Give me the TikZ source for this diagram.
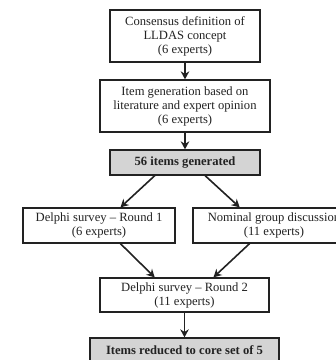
\documentclass[tikz,border=0pt]{standalone}
\usepackage{fontspec}
\setmainfont{Liberation Serif}
\usetikzlibrary{arrows.meta,calc}
\definecolor{boxgray}{HTML}{D4D4D4}
\definecolor{ink}{HTML}{222222}
\tikzset{
  box/.style={draw=ink, line width=1.3pt, fill=white, inner sep=0pt, align=center,
    font=\fontsize{12.6}{14}\selectfont, text=ink},
  graybox/.style={box, fill=boxgray, font=\fontsize{12.6}{14}\selectfont\bfseries},
  arr/.style={draw=ink, line width=1.6pt, -{Stealth[length=8pt,width=8.5pt]}}
}
\begin{document}
\begin{tikzpicture}[x=1pt,y=-1pt]
\useasboundingbox (0,0) rectangle (336,360);
\clip (0,0) rectangle (336,360);
\node[box, minimum width=150pt, minimum height=52pt] (b1) at (185,36) {Consensus definition of\\LLDAS concept\\(6 experts)};
\node[box, minimum width=170pt, minimum height=52pt] (b2) at (185,106) {Item generation based on\\literature and expert opinion\\(6 experts)};
\node[graybox, minimum width=150pt, minimum height=25pt] (b3) at (185,162.5) {56 items generated};
\node[box, minimum width=152pt, minimum height=35pt] (d1) at (99,225.5) {Delphi survey -- Round 1\\(6 experts)};
\node[box, minimum width=162pt, minimum height=35pt] (ng) at (274,225.5) {Nominal group discussion\\(11 experts)};
\node[box, minimum width=169pt, minimum height=34pt] (d2) at (184.5,295) {Delphi survey -- Round 2\\(11 experts)};
\node[graybox, minimum width=189pt, minimum height=24pt] (fin) at (184.5,350) {Items reduced to core set of 5};
\draw[arr] (b1.south) -- (b2.north);
\draw[arr] (b2.south) -- (b3.north);
\draw[arr] ($(b3.south west)!0.3!(b3.south east)$) -- ($(d1.north west)!0.64!(d1.north east)$);
\draw[arr] ($(b3.south west)!0.633!(b3.south east)$) -- ($(ng.north west)!0.29!(ng.north east)$);
\draw[arr] ($(d1.south west)!0.64!(d1.south east)$) -- ($(d2.north west)!0.325!(d2.north east)$);
\draw[arr] ($(ng.south west)!0.35!(ng.south east)$) -- ($(d2.north west)!0.67!(d2.north east)$);
\draw[arr] (d2.south) -- (fin.north);
\end{tikzpicture}
\end{document}
